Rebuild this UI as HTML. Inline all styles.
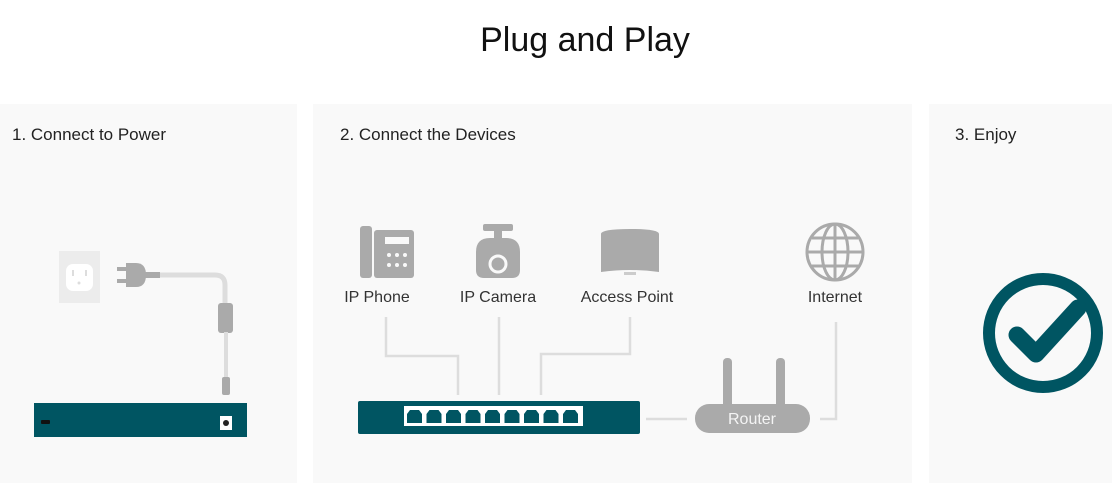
<!DOCTYPE html>
<html><head><style>
body{margin:0;width:1112px;height:483px;background:#fff;overflow:hidden;font-family:"Liberation Sans",sans-serif;}
</style></head><body>
<svg width="1112" height="483" xmlns="http://www.w3.org/2000/svg" font-family="Liberation Sans, sans-serif">
<text x="585" y="51" text-anchor="middle" font-size="34" fill="#111">Plug and Play</text>
<rect x="0" y="104" width="297" height="379" fill="#f9f9f9"/>
<rect x="313" y="104" width="599" height="379" fill="#f9f9f9"/>
<rect x="929" y="104" width="183" height="379" fill="#f9f9f9"/>
<text x="12" y="140" font-size="17" fill="#222">1. Connect to Power</text>
<text x="340" y="140" font-size="17" fill="#222">2. Connect the Devices</text>
<text x="955" y="140" font-size="17" fill="#222">3. Enjoy</text>
<!-- panel 1 -->
<rect x="59" y="251" width="41" height="52" fill="#ececec"/>
<rect x="66" y="264" width="27" height="27" rx="7" fill="#fff"/>
<rect x="72" y="270" width="2" height="6" fill="#ddd"/><rect x="85" y="270" width="2" height="6" fill="#ddd"/>
<circle cx="79" cy="283" r="1.5" fill="#ddd"/>
<path d="M150 275 H215 Q225 275 225 285 V305" stroke="#ddd" stroke-width="5" fill="none"/>
<rect x="117" y="267" width="9" height="4" fill="#aaa"/><rect x="117" y="279" width="9" height="4" fill="#aaa"/>
<path d="M126 263 H136 Q146 263 146 275 Q146 287 136 287 H126 Z" fill="#aaa"/>
<rect x="145" y="272" width="15" height="6" fill="#aaa"/>
<rect x="218" y="303" width="15" height="30" rx="3" fill="#aaa"/>
<rect x="224" y="332" width="4" height="48" fill="#ddd"/>
<rect x="222" y="377" width="8" height="18" rx="2" fill="#aaa"/>
<rect x="34" y="403" width="213" height="34" fill="#005562"/>
<rect x="41" y="420" width="9" height="4" rx="1" fill="#111"/>
<rect x="220" y="416" width="12" height="14" fill="#fff"/><circle cx="226" cy="423" r="3" fill="#222"/>
<!-- panel 2 connectors -->
<g stroke="#ddd" stroke-width="2.5" fill="none">
<path d="M386 317 V356 H458 V395"/>
<path d="M499 317 V395"/>
<path d="M630 317 V354 H541 V395"/>
<path d="M646 419 H687"/>
<path d="M836 322 V419 H820"/>
</g>
<!-- phone -->
<rect x="360" y="226" width="12" height="52" rx="3" fill="#aaa"/>
<rect x="374" y="230" width="40" height="48" rx="3" fill="#aaa"/>
<rect x="385" y="237" width="24" height="7" fill="#f9f9f9"/>
<g fill="#f9f9f9"><circle cx="389" cy="255" r="2"/><circle cx="397" cy="255" r="2"/><circle cx="405" cy="255" r="2"/><circle cx="389" cy="265" r="2"/><circle cx="397" cy="265" r="2"/><circle cx="405" cy="265" r="2"/></g>
<!-- camera -->
<rect x="483" y="224" width="30" height="7" rx="2" fill="#aaa"/>
<rect x="494" y="230" width="8" height="8" fill="#aaa"/>
<path d="M476 252 Q476 238 490 238 H506 Q520 238 520 252 V270 Q520 278 512 278 H484 Q476 278 476 270 Z" fill="#aaa"/>
<circle cx="498" cy="264" r="8" fill="none" stroke="#f9f9f9" stroke-width="3"/>
<!-- AP -->
<path d="M601 234 Q601 229 630 229 Q659 229 659 234 V272 Q630 268 601 272 Z" fill="#aaa"/>
<rect x="624" y="272" width="12" height="3" fill="#ccc"/>
<text x="377" y="302" font-size="16" fill="#333" text-anchor="middle">IP Phone</text>
<text x="498" y="302" font-size="16" fill="#333" text-anchor="middle">IP Camera</text>
<text x="627" y="302" font-size="16" fill="#333" text-anchor="middle">Access Point</text>
<text x="835" y="302" font-size="16" fill="#333" text-anchor="middle">Internet</text>
<!-- globe -->
<g stroke="#aaa" stroke-width="3" fill="none">
<circle cx="835" cy="252" r="28"/>
<ellipse cx="835" cy="252" rx="13" ry="28"/>
<line x1="835" y1="224" x2="835" y2="280"/>
<line x1="807" y1="252" x2="863" y2="252"/>
<path d="M812 238 H858 M812 266 H858"/>
</g>
<!-- switch -->
<rect x="358" y="401" width="282" height="33" rx="2" fill="#005562"/>
<rect x="404" y="406" width="179" height="20" fill="#fff"/>
<g fill="#005562">
<path d="M407 423 V414 L410 410 H419 L422 414 V423 Z"/>
<path d="M426.5 423 V414 L429.5 410 H438.5 L441.5 414 V423 Z"/>
<path d="M446 423 V414 L449 410 H458 L461 414 V423 Z"/>
<path d="M465.5 423 V414 L468.5 410 H477.5 L480.5 414 V423 Z"/>
<path d="M485 423 V414 L488 410 H497 L500 414 V423 Z"/>
<path d="M504.5 423 V414 L507.5 410 H516.5 L519.5 414 V423 Z"/>
<path d="M524 423 V414 L527 410 H536 L539 414 V423 Z"/>
<path d="M543.5 423 V414 L546.5 410 H555.5 L558.5 414 V423 Z"/>
<path d="M563 423 V414 L566 410 H575 L578 414 V423 Z"/>
</g>
<!-- router -->
<rect x="723" y="358" width="9" height="50" rx="4" fill="#aaa"/>
<rect x="776" y="358" width="9" height="50" rx="4" fill="#aaa"/>
<rect x="695" y="404" width="115" height="29" rx="14" fill="#aaa"/>
<text x="752" y="424" font-size="16" fill="#f4f4f4" text-anchor="middle">Router</text>
<!-- check -->
<circle cx="1043" cy="333" r="54" fill="none" stroke="#005562" stroke-width="12"/>
<path d="M1017 335 L1036 354 L1078 308" fill="none" stroke="#005562" stroke-width="17" stroke-linecap="round" stroke-linejoin="round"/>
</svg>
</body></html>
